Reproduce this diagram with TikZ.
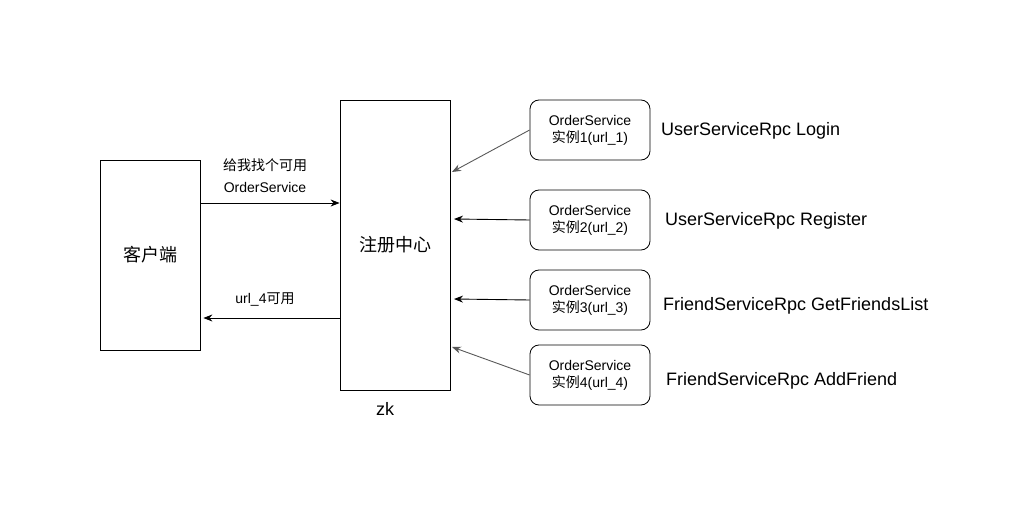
\documentclass[tikz,border=0pt]{standalone}
\usepackage{fontspec}
\setmainfont{Liberation Sans}
\newfontfamily\cjk{Noto Sans CJK SC}
\usetikzlibrary{arrows.meta}
\usetikzlibrary{positioning, shapes.geometric}

\begin{document}
\begin{tikzpicture}[x=1pt, y=-1pt,
	svc/.style={rectangle, draw, rounded corners=9pt, minimum width=120pt, minimum height=60pt, align=center, font=\fontsize{14}{17}\selectfont},
	rpc/.style={anchor=west, inner sep=0pt, font=\fontsize{18}{20}\selectfont},
	call/.style={-{Stealth[length=9pt, width=7pt]}, line width=0.9pt}]
	\useasboundingbox (0,0) rectangle (1036,526);
	% --- Client and registry ---
	\node[rectangle, draw, line width=0.8pt, minimum width=100pt, minimum height=190pt, font=\fontsize{18}{20}\selectfont] (cli) at (150, 255) {\cjk 客户端};
	\node[rectangle, draw, line width=0.8pt, minimum width=110pt, minimum height=290pt, font=\fontsize{18}{20}\selectfont] (reg) at (395, 245) {\cjk 注册中心};
	\node[font=\fontsize{18}{20}\selectfont, below=9pt of reg, xshift=-10pt] (zk) {zk};

	% --- Service instances ---
	\node[svc, line width=0.8pt] (svc1) at (590, 130) {OrderService\\{\cjk 实例}1(url\_1)};
	\node[svc, line width=0.8pt] (svc2) at (590, 220) {OrderService\\{\cjk 实例}2(url\_2)};
	\node[svc, line width=0.8pt] (svc3) at (590, 300) {OrderService\\{\cjk 实例}3(url\_3)};
	\node[svc, line width=0.8pt] (svc4) at (590, 375) {OrderService\\{\cjk 实例}4(url\_4)};

	\node[rpc] (rpc1) at (661, 131) {UserServiceRpc Login};
	\node[rpc] (rpc2) at (665, 221) {UserServiceRpc Register};
	\node[rpc] (rpc3) at (663, 306) {FriendServiceRpc GetFriendsList};
	\node[rpc] (rpc4) at (666, 381) {FriendServiceRpc AddFriend};

	% --- Calls ---
	\coordinate (in1) at (452, 172);
	\coordinate (in2) at (454, 219);
	\coordinate (in3) at (454, 299);
	\coordinate (in4) at (452, 347);
	\draw[call, draw=black!65] (svc1.west) -- (in1);
	\draw[call] (svc2.west) -- (in2);
	\draw[call] (svc3.west) -- (in3);
	\draw[call, draw=black!65] (svc4.west) -- (in4);

	\coordinate (ask) at (200, 203);
	\coordinate (back) at (340, 318);
	\draw[call] (ask) -- (ask -| reg.west);
	\node[font=\fontsize{14}{22}\selectfont, align=center] (askl) at (265, 176) {\cjk 给我找个可用\\OrderService};
	\draw[call] (back) -- ([xshift=3pt]back -| cli.east);
	\node[font=\fontsize{14}{17}\selectfont] (backl) at (265, 300) {url\_4{\cjk 可用}};
\end{tikzpicture}
\end{document}
